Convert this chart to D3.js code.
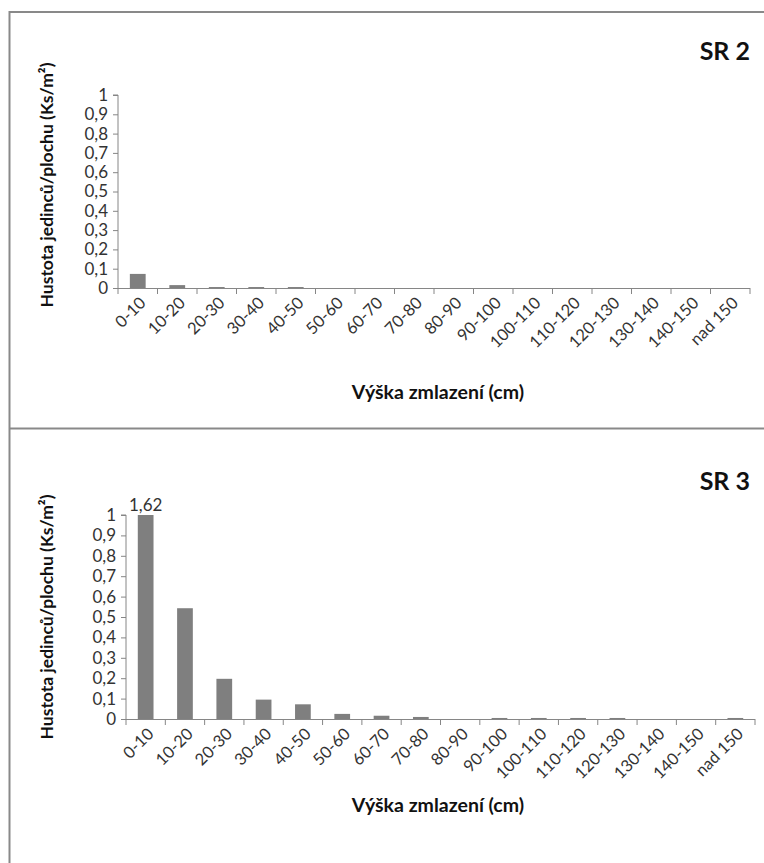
<!DOCTYPE html>
<html><head><meta charset="utf-8">
<script src="https://cdn.jsdelivr.net/npm/d3@7"></script>
<style>body{margin:0;background:#fff}svg{display:block}</style>
</head><body>
<script>
const categories = ["0-10","10-20","20-30","30-40","40-50","50-60","60-70","70-80","80-90","90-100","100-110","110-120","120-130","130-140","140-150","nad 150"];
const sr2Values = [0.073,0.015,0.005,0.005,0.005,0,0,0,0,0,0,0,0,0,0,0];
const sr3Values = [1.62,0.543,0.197,0.095,0.072,0.025,0.016,0.01,0,0.005,0.005,0.005,0.005,0,0,0.005];
const yTicks = [0,0.1,0.2,0.3,0.4,0.5,0.6,0.7,0.8,0.9,1];
const panels = [
  {title:"SR 2", values: sr2Values, x0:118, x1:750, y0:288, y1:95, titleY:60, xTitleY:399, yTitleC:185, labelFirst:false},
  {title:"SR 3", values: sr3Values, x0:126, x1:755, y0:719, y1:515, titleY:490, xTitleY:812, yTitleC:617, labelFirst:true}
];
const W=764,H=863,font="Lato, 'Open Sans', sans-serif";
const svg=d3.select("body").append("svg").attr("width",W).attr("height",H);
// frame
svg.append("rect").attr("x",9.5).attr("y",12).attr("width",800).attr("height",900)
  .attr("fill","none").attr("stroke","#898989").attr("stroke-width",2);
svg.append("line").attr("x1",9).attr("x2",W).attr("y1",428.5).attr("y2",428.5)
  .attr("stroke","#898989").attr("stroke-width",2);
const fmt = v => String(v).replace(".",",");
panels.forEach(p=>{
  const g=svg.append("g");
  const xb=d3.scaleBand().domain(categories).range([p.x0,p.x1]);
  const y=d3.scaleLinear().domain([0,1]).range([p.y0,p.y1]);
  // bars (clipped at axis max)
  g.selectAll("rect.bar").data(p.values).join("rect").attr("class","bar")
    .attr("x",(d,i)=>xb(categories[i])+xb.bandwidth()*0.3)
    .attr("width",xb.bandwidth()*0.4)
    .attr("y",d=>y(Math.min(d,1)))
    .attr("height",d=>y(0)-y(Math.min(d,1)))
    .attr("fill","#7f7f7f");
  // y axis
  const ya=g.append("g").attr("transform",`translate(${p.x0},0)`)
    .call(d3.axisLeft(y).tickValues(yTicks).tickSize(5).tickPadding(5).tickFormat(fmt));
  ya.select(".domain").attr("stroke","#868686").attr("d",`M-5,${p.y1}H0V${p.y0}`);
  ya.selectAll(".tick line").attr("stroke","#868686");
  ya.selectAll(".tick text").attr("font-family",font).attr("font-size",17).attr("fill","#333");
  // x axis
  const xa=g.append("g").attr("transform",`translate(0,${p.y0})`);
  xa.append("line").attr("x1",p.x0).attr("x2",p.x1).attr("y1",0.5).attr("y2",0.5).attr("stroke","#868686");
  xa.selectAll("line.t").data(d3.range(categories.length+1)).join("line").attr("class","t")
    .attr("x1",i=>p.x0+i*xb.step()).attr("x2",i=>p.x0+i*xb.step()).attr("y1",0).attr("y2",6).attr("stroke","#868686");
  xa.selectAll("text").data(categories).join("text")
    .attr("transform",d=>`translate(${xb(d)+xb.bandwidth()/2+9},${16}) rotate(-45)`)
    .attr("text-anchor","end").attr("font-family",font).attr("font-size",16.5).attr("fill","#333").text(d=>d);
  // titles
  g.append("text").attr("x",750).attr("y",p.titleY).attr("text-anchor","end")
    .attr("font-family",font).attr("font-weight","bold").attr("font-size",25).attr("fill","#111").text(p.title);
  g.append("text").attr("x",438).attr("y",p.xTitleY).attr("text-anchor","middle")
    .attr("font-family",font).attr("font-weight","bold").attr("font-size",19.5).attr("fill","#111").text("Výška zmlazení (cm)");
  g.append("text").attr("transform",`translate(53,${p.yTitleC}) rotate(-90)`).attr("text-anchor","middle")
    .attr("font-family",font).attr("font-weight","bold").attr("font-size",17.5).attr("fill","#111").text("Hustota jedinců/plochu (Ks/m²)");
  if(p.labelFirst){
    g.append("text").attr("x",xb(categories[0])+xb.bandwidth()/2).attr("y",y(1)-4).attr("text-anchor","middle")
      .attr("font-family",font).attr("font-size",17).attr("fill","#333").text(fmt(p.values[0]));
  }
});
</script>
</body></html>
